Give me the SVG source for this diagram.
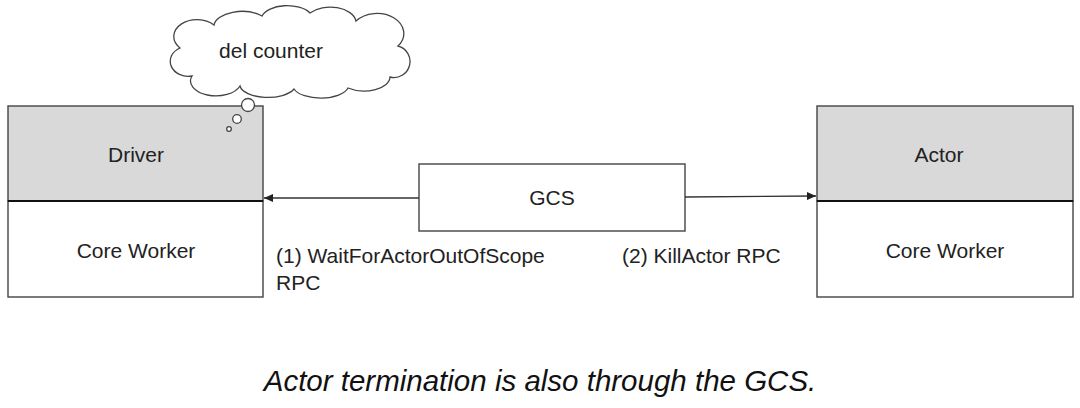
<svg xmlns="http://www.w3.org/2000/svg" width="1080" height="408" viewBox="0 0 1080 408">
<style>
.box{fill:#ffffff;stroke:#444;stroke-width:1.4}
.head{fill:#d9d9d9;stroke:#444;stroke-width:1.4}
.div{stroke:#111;stroke-width:2.2}
.t{font-family:"Liberation Sans",Arial,sans-serif;font-size:21px;fill:#222}
.c{text-anchor:middle}
.edge{stroke:#333;stroke-width:1.4;fill:none}
.cap{font-family:"Liberation Sans",Arial,sans-serif;font-size:29.5px;font-style:italic;fill:#111;text-anchor:middle}
</style>
<defs>
<marker id="arr" markerWidth="10" markerHeight="8" refX="9" refY="4" orient="auto" markerUnits="userSpaceOnUse">
<path d="M0,0 L9,4 L0,8 Z" fill="#222"/>
</marker>
</defs>
<rect width="1080" height="408" fill="#ffffff"/>
<g id="driver">
<rect class="head" x="8" y="106" width="255" height="95"/>
<rect class="box" x="8" y="201" width="255" height="96"/>
<line class="div" x1="8" y1="201" x2="263" y2="201"/>
<text class="t c" x="136" y="162">Driver</text>
<text class="t c" x="136" y="258">Core Worker</text>
</g>
<g id="actor">
<rect class="head" x="817" y="106" width="256" height="95"/>
<rect class="box" x="817" y="201" width="256" height="96"/>
<line class="div" x1="817" y1="201" x2="1073" y2="201"/>
<text class="t c" x="939" y="162">Actor</text>
<text class="t c" x="945" y="258">Core Worker</text>
</g>
<g id="gcs">
<rect class="box" x="419" y="164" width="266" height="67"/>
<text class="t c" x="552" y="205">GCS</text>
</g>
<g id="thought">
<path d="M192,76 A18,15 0 0 1 180,48 A22,16 0 0 1 214,25 A28,15 0 0 1 262,16 A26,14 0 0 1 310,13 A26,16 0 0 1 356,21 A24,18 0 0 1 398,46 A16,16 0 0 1 390,77 A26,14 0 0 1 348,88 A28,13 0 0 1 294,89 A28,13 0 0 1 240,86 A24,14 0 0 1 192,76 Z" fill="#fff" stroke="#444" stroke-width="1.3"/>
<text class="t c" x="271" y="58">del counter</text>
<circle cx="248" cy="105" r="6.5" fill="#fff" stroke="#444" stroke-width="1.3"/>
<circle cx="237" cy="119" r="4.3" fill="#fff" stroke="#444" stroke-width="1.3"/>
<circle cx="229" cy="129" r="2.3" fill="#fff" stroke="#444" stroke-width="1.3"/>
</g>
<g id="connectors">
<line class="edge" x1="419" y1="198" x2="264" y2="198" marker-end="url(#arr)"/>
<line class="edge" x1="685" y1="197" x2="816" y2="196" marker-end="url(#arr)"/>
<text class="t" x="276" y="263">(1) WaitForActorOutOfScope</text>
<text class="t" x="276" y="290">RPC</text>
<text class="t" x="622" y="263">(2) KillActor RPC</text>
</g>
<text class="cap" x="540" y="391">Actor termination is also through the GCS.</text>
</svg>
